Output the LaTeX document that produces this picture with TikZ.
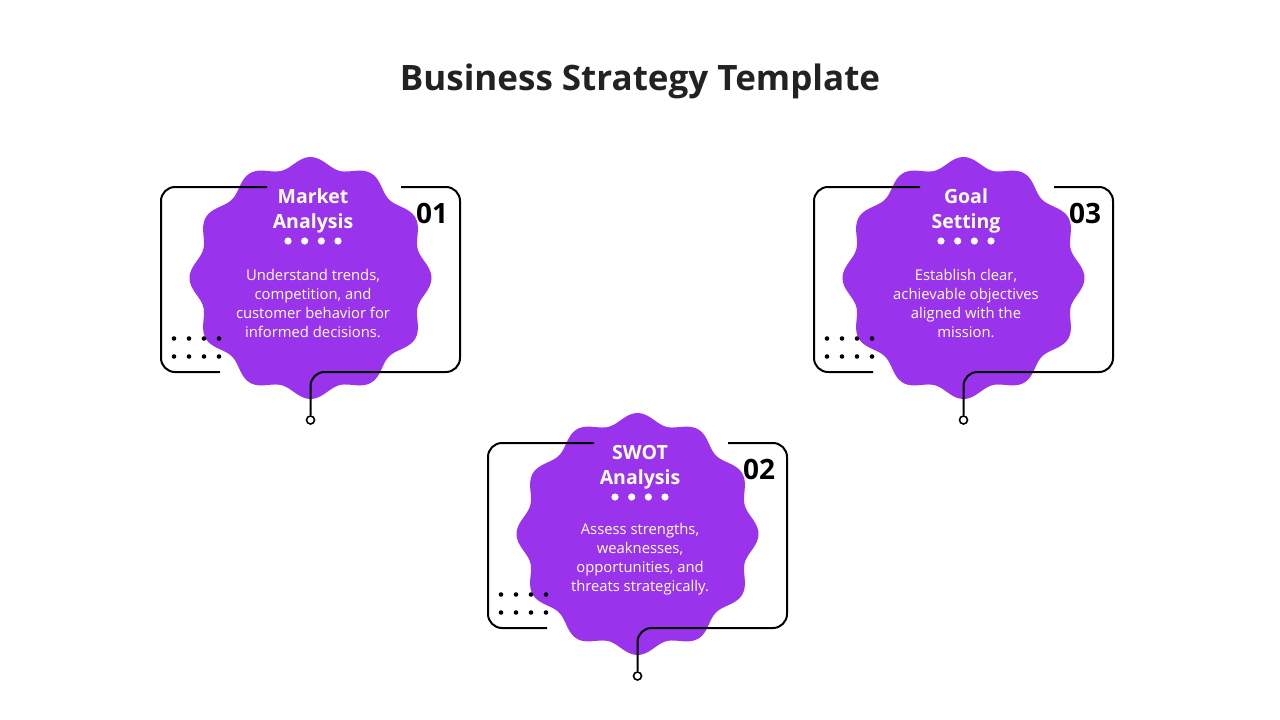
\documentclass[tikz,border=0pt]{standalone}
\usepackage{fontspec}
\setmainfont{Open Sans}
\definecolor{blobpurple}{HTML}{9A34EC}
\definecolor{titlegray}{HTML}{222222}
\tikzset{
  blob/.style={fill=blobpurple},
  frame/.style={draw=black, line width=2pt, rounded corners=14pt},
  pin/.style={circle, draw=black, fill=white, line width=1.6pt, minimum size=8pt, inner sep=0pt},
  cardtitle/.style={text=white, align=center, inner sep=0pt, font=\fontsize{19.5}{25}\selectfont\bfseries},
  cardbody/.style={text=white, align=center, inner sep=0pt, font=\fontsize{14.8}{19}\selectfont},
  cardnum/.style={text=black, inner sep=0pt, font=\fontsize{28}{30}\selectfont\bfseries},
  wdot/.style={fill=white},
  bdot/.style={fill=black}
}
\newcommand{\stratcard}[6]{%
  % #1 x0, #2 y0, #3 id, #4 title, #5 number, #6 body
  \pgfmathsetmacro{\cx}{#1+149.5}
  \pgfmathsetmacro{\cy}{#2+91}
  \pgfmathsetmacro{\tx}{#1+152}
  % blob
  \fill[blob] plot[domain=0:360, samples=240, smooth cycle]
     ({\cx+(116+5*cos(12*\x))*cos(\x)}, {\cy+(116+5*cos(12*\x))*sin(\x)});
  % frame pieces
  \coordinate (#3tl) at (#1+106,#2);
  \coordinate (#3bl) at (#1+59,#2+185);
  \coordinate (#3tr) at (#1+240,#2);
  \draw[frame] (#3tl) -- (#1,#2) -- (#1,#2+185) -- (#3bl);
  \node[pin] (#3pin) at (\cx,#2+233) {};
  \draw[frame] (#3tr) -- (#1+299,#2) -- (#1+299,#2+185) -- (\cx,#2+185) -- (#3pin.north);
  % dots
  \foreach \dx in {13,28,43,58}{
    \fill[bdot] (#1+\dx,#2+151.5) circle (2.3pt);
    \fill[bdot] (#1+\dx,#2+169.5) circle (2.3pt);
  }
  \foreach \dx in {-25,-8.33,8.33,25}{
    \fill[wdot] (\tx+\dx,#2+54) circle (3.6pt);
  }
  % texts
  \node[cardtitle] (#3title) at (\tx,#2+24) {#4};
  \node[cardbody] (#3body) at (\tx,#2+116) {#6};
  \node[cardnum] (#3num) at (#1+271,#2+26) {#5};
}
\begin{document}
\begin{tikzpicture}[x=1pt,y=-1pt]
\useasboundingbox (0,0) rectangle (1280,720);
\node[text=titlegray, font=\fontsize{35}{40}\selectfont\bfseries] (maintitle) at (640,81) {Business Strategy Template};
\stratcard{161}{187}{a}{Market\\Analysis}{01}{Understand trends,\\competition, and\\customer behavior for\\informed decisions.}
\stratcard{488}{443}{b}{SWOT\\Analysis}{02}{Assess strengths,\\weaknesses,\\opportunities, and\\threats strategically.}
\stratcard{814}{187}{c}{Goal\\Setting}{03}{Establish clear,\\achievable objectives\\aligned with the\\mission.}
\end{tikzpicture}
\end{document}
